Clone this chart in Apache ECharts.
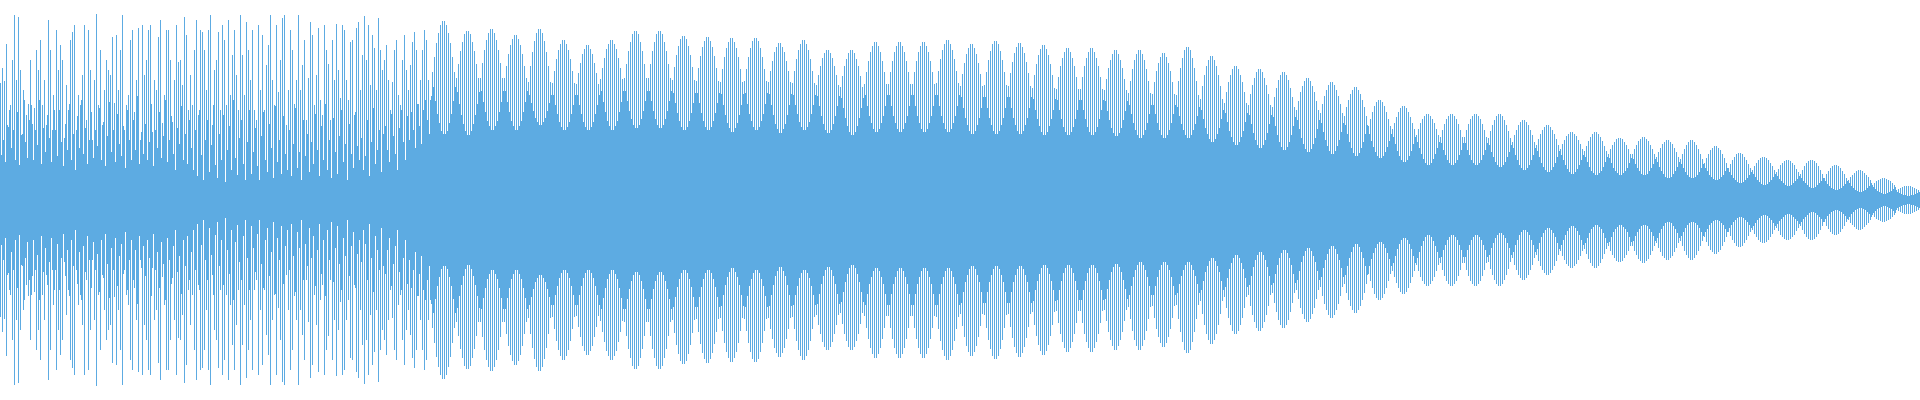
<html>
<head>
    <script src="https://cdn.jsdelivr.net/npm/echarts@6/dist/echarts.min.js"></script>
    <style>
        html, body { margin: 0; padding: 0; background: #fff; }
        #wave { width: 1920px; height: 400px; }
    </style>
</head>
<body>
    <div id="wave"></div>
    <script>
        // amplitude in px above/below the centre line, two samples per column
        var tallNoise = [
            117,132,119,156,73,95,140,185,120,183,130,66,
            100,85,96,140,76,92,150,130,160,95,120,75,
            180,150,70,90,170,130,155,140,62,115,90,160,
            168,175,70,105,95,125,175,80,170,130,60,120,
            186,95,150,75,110,140,130,125,163,97,165,110,
            150,185,70,95,105,160,170,88,120,172,60,175,
            125,140,170,175,68,120,110,163,180,77,105,170,
            170,140,78,120,175,138,140,115,183,165,90,125,
            95,150,180,85,170,168,150,110,170,185,75,130,
            140,168,90,175,160,95,180,105,145,170,125,90,
            185,145,105,178,150,120,170,90,80,175,110,165,
            90,135,155,185,120,95,175,108,140,182,185,75,
            110,170,150,96,120,185,110,135,160,80,122,178,
            165,95,125,172,100,85,175,150,136,80,160,120,
            176,130,102,175,170,120,100,158,160,85,172,178,
            110,145,184,140,175,115,165,152,110,182,150,130,
            140,155,120,90,118,150,160,105,95,140,165,130,
            110,135,158,168,150,96,120,150,170,160,120,100
        ];
        var shortNoise = [
            45,60,38,75,90,52,70,40,88,35,65,110,
            58,42,80,95,40,70,55,100,36,72,48,85,
            62,38,105,70,44,90,58,34,76,50,96,40,
            66,30,84,52,100,46,72,36,60,88,42,70,
            54,92,40,78,34,64,98,48,70,38,86,56,
            44,74,32,90,60,40,80,50,104,36,68,46,
            76,40,58,96,34,70,52,88,42,64,100,38,
            60,84,46,30,72,56,94,40,66,36,80,52,
            30,70,24,90,45,20,60,80,28,55,95,35,
            22,66,40,85,18,50,74,30,100,42,25,62,
            80,36,20,58,90,26,48,72,34,20,64,88,
            40,28,76,52,22,94,38,60,26,84,46,30,
            70,24,56,92,32,48,20,80,44,66,28,58,
            36,86,50,24,74,40,96,30,60,22,82,48,
            26,64,90,38,56,20,76,46,32,88,54,40,
            62,30,44,80,24,58,92,36,50,70,28,66,
            74,50,38,86,64,46,30,72,90,58,40,84,
            60,88,70,52,96,74,56,90,100,80,66,104
        ];
        var tallBeats = [
            128,143,157,167,175,179,179,175,167,157,143,128,
            122,136,149,158,166,169,169,166,158,149,136,122,
            122,137,150,160,167,171,171,167,160,150,137,122,
            122,134,146,155,161,165,165,161,155,146,134,122,
            118,134,148,159,167,171,171,167,159,148,134,118,
            117,129,141,150,156,160,160,156,150,141,129,117,
            116,127,137,146,151,155,155,151,146,137,127,116,
            121,132,142,151,156,160,160,156,151,142,132,121,
            122,136,149,158,166,169,169,166,158,149,136,122,
            122,136,149,158,166,169,169,166,158,149,136,122,
            120,133,145,154,161,164,164,161,154,145,133,120,
            119,132,144,153,159,163,163,159,153,144,132,119,
            118,131,143,152,158,162,162,158,152,143,131,118,
            119,131,143,152,159,162,162,159,152,143,131,119,
            118,129,139,148,153,157,157,153,148,139,129,118,
            117,129,141,150,156,160,160,156,150,141,129,117,
            115,125,134,142,147,150,150,147,142,134,125,115,
            113,124,134,141,147,150,150,147,141,134,124,113,
            116,128,139,148,154,158,158,154,148,139,128,116,
            116,128,139,148,154,158,158,154,148,139,128,116,
            116,128,139,148,154,158,158,154,148,139,128,116,
            117,129,141,150,156,160,160,156,150,141,129,117,
            114,126,137,146,152,156,156,152,146,137,126,114,
            115,128,140,149,156,159,159,156,149,140,128,115,
            114,127,138,147,153,157,157,153,147,138,127,114,
            112,125,136,145,151,155,155,151,145,136,125,112,
            111,123,134,142,148,152,152,148,142,134,123,111,
            111,123,134,142,148,152,152,148,142,134,123,111,
            110,121,132,140,146,150,150,146,140,132,121,110,
            107,119,131,140,146,150,150,146,140,131,119,107,
            106,118,129,137,143,147,147,143,137,129,118,106,
            105,119,132,142,150,153,153,150,142,132,119,105,
            101,114,125,134,140,144,144,140,134,125,114,101,
            97,108,118,125,131,134,134,131,125,118,108,97,
            95,106,115,122,128,131,131,128,122,115,106,95,
            93,103,112,120,125,128,128,125,120,112,103,93,
            90,99,108,114,119,122,122,119,114,108,99,90,
            87,96,104,110,115,118,118,115,110,104,96,87,
            84,93,100,106,110,113,113,110,106,100,93,84,
            74,81,88,94,98,100,100,98,94,88,81,74,
            71,77,83,88,92,94,94,92,88,83,77,71,
            65,71,77,81,84,86,86,84,81,77,71,65,
            63,70,76,81,84,86,86,84,81,76,70,63,
            63,70,76,81,84,86,86,84,81,76,70,63,
            62,69,75,80,84,86,86,84,80,75,69,62,
            58,65,70,75,78,80,80,78,75,70,65,58,
            55,61,66,70,73,75,75,73,70,66,61,55,
            51,56,60,64,66,68,68,66,64,60,56,51,
            49,54,59,63,66,68,68,66,63,59,54,49,
            46,51,55,58,61,62,62,61,58,55,51,46,
            46,51,55,59,61,63,63,61,59,55,51,46,
            43,48,52,56,58,60,60,58,56,52,48,43,
            41,46,51,55,58,60,60,58,55,51,46,41,
            37,42,46,50,52,54,54,52,50,46,42,37,
            32,36,40,43,46,47,47,46,43,40,36,32,
            30,34,37,40,42,43,43,42,40,37,34,30,
            28,31,35,37,39,40,40,39,37,35,31,28,
            26,30,34,37,39,40,40,39,37,34,30,26,
            22,26,29,32,34,35,35,34,32,29,26,22,
            20,23,25,27,29,30,30,29,27,25,23,20,
            15,17,19,20,21,22,22,21,20,19,17,15,
            10,11,12,13,14,14,14,14,13,12,11,10
        ];
        var shortBeats = [
            113,99,86,77,69,66,66,69,77,86,99,113,
            108,96,85,76,69,65,65,69,76,85,96,108,
            109,98,88,79,74,70,70,74,79,88,98,109,
            109,98,88,79,74,70,70,74,79,88,98,109,
            105,97,89,82,78,75,75,78,82,89,97,105,
            105,95,86,78,73,70,70,73,78,86,95,105,
            105,95,86,78,73,70,70,73,78,86,95,105,
            109,98,88,79,74,70,70,74,79,88,98,109,
            109,99,89,81,75,72,72,75,81,89,99,109,
            109,99,89,81,75,72,72,75,81,89,99,109,
            107,97,87,79,73,70,70,73,79,87,97,107,
            107,97,87,79,73,70,70,73,79,87,97,107,
            106,95,85,77,72,68,68,72,77,85,95,106,
            107,96,86,79,73,70,70,73,79,86,96,107,
            106,95,85,76,71,67,67,71,76,85,95,106,
            105,95,86,78,73,70,70,73,78,86,95,105,
            104,94,84,76,70,67,67,70,76,84,94,104,
            102,92,82,74,68,65,65,68,74,82,92,102,
            105,94,84,77,71,68,68,71,77,84,94,105,
            105,94,84,77,71,68,68,71,77,84,94,105,
            105,94,84,77,71,68,68,71,77,84,94,105,
            105,94,84,77,71,68,68,71,77,84,94,105,
            103,92,82,75,69,66,66,69,75,82,92,103,
            103,92,82,75,69,66,66,69,75,82,92,103,
            103,92,82,75,69,66,66,69,75,82,92,103,
            101,90,81,74,68,65,65,68,74,81,90,101,
            100,90,81,73,68,65,65,68,73,81,90,100,
            100,90,81,73,68,65,65,68,73,81,90,100,
            99,89,80,72,67,64,64,67,72,80,89,99,
            95,86,77,70,65,62,62,65,70,77,86,95,
            95,86,77,70,65,62,62,65,70,77,86,95,
            93,84,76,70,65,62,62,65,70,76,84,93,
            90,81,72,66,61,58,58,61,66,72,81,90,
            87,78,69,63,58,55,55,58,63,69,78,87,
            85,76,67,60,55,52,52,55,60,67,76,85,
            83,74,65,58,53,50,50,53,58,65,74,83,
            80,71,62,56,51,48,48,51,56,62,71,80,
            77,68,60,54,49,46,46,49,54,60,68,77,
            75,66,58,52,47,44,44,47,52,58,66,75,
            66,59,53,48,44,42,42,44,48,53,59,66,
            63,56,49,44,40,38,38,40,44,49,56,63,
            58,52,46,41,37,35,35,37,41,46,52,58,
            57,50,45,40,37,35,35,37,40,45,50,57,
            57,50,45,40,37,35,35,37,40,45,50,57,
            55,48,43,38,35,33,33,35,38,43,48,55,
            52,45,40,35,32,30,30,32,35,40,45,52,
            49,43,37,33,30,28,28,30,33,37,43,49,
            45,40,35,31,28,26,26,28,31,35,40,45,
            43,38,33,29,27,25,25,27,29,33,38,43,
            42,37,32,29,27,25,25,27,29,32,37,42,
            41,36,32,29,26,25,25,26,29,32,36,41,
            38,33,29,26,23,22,22,23,26,29,33,38,
            36,32,28,25,23,22,22,23,25,28,32,36,
            32,29,25,23,21,20,20,21,23,25,29,32,
            28,25,22,20,18,17,17,18,20,22,25,28,
            26,23,20,18,16,15,15,16,18,20,23,26,
            24,21,19,17,15,14,14,15,17,19,21,24,
            22,19,17,15,13,12,12,13,15,17,19,22,
            19,16,14,12,11,10,10,11,12,14,16,19,
            17,14,12,10,9,8,8,9,10,12,14,17,
            13,11,9,8,7,6,6,7,8,9,11,13,
            8,7,6,5,5,4,4,5,5,6,7,8
        ];

        var tall = tallNoise.concat(tallBeats);
        var short = shortNoise.concat(shortBeats);
        var samples = tall.map(function (v, i) { return i; });
        var color = '#5DABE2';

        function neg(arr) {
            return arr.map(function (v) { return -v; });
        }
        function bars(name, stack, data) {
            return {
                name: name,
                type: 'bar',
                stack: stack,
                barWidth: 1,
                barGap: '0%',
                silent: true,
                itemStyle: { color: color },
                data: data
            };
        }

        var chart = echarts.init(document.getElementById('wave'));
        chart.setOption({
            animation: false,
            grid: { left: 0, right: 0, top: 0, bottom: 0 },
            xAxis: { type: 'category', data: samples, show: false },
            yAxis: { type: 'value', min: -200, max: 200, show: false },
            series: [
                bars('tall', 'a', tall),
                bars('tallNeg', 'a', neg(tall)),
                bars('short', 'b', short),
                bars('shortNeg', 'b', neg(short))
            ]
        });
    </script>
</body>
</html>
